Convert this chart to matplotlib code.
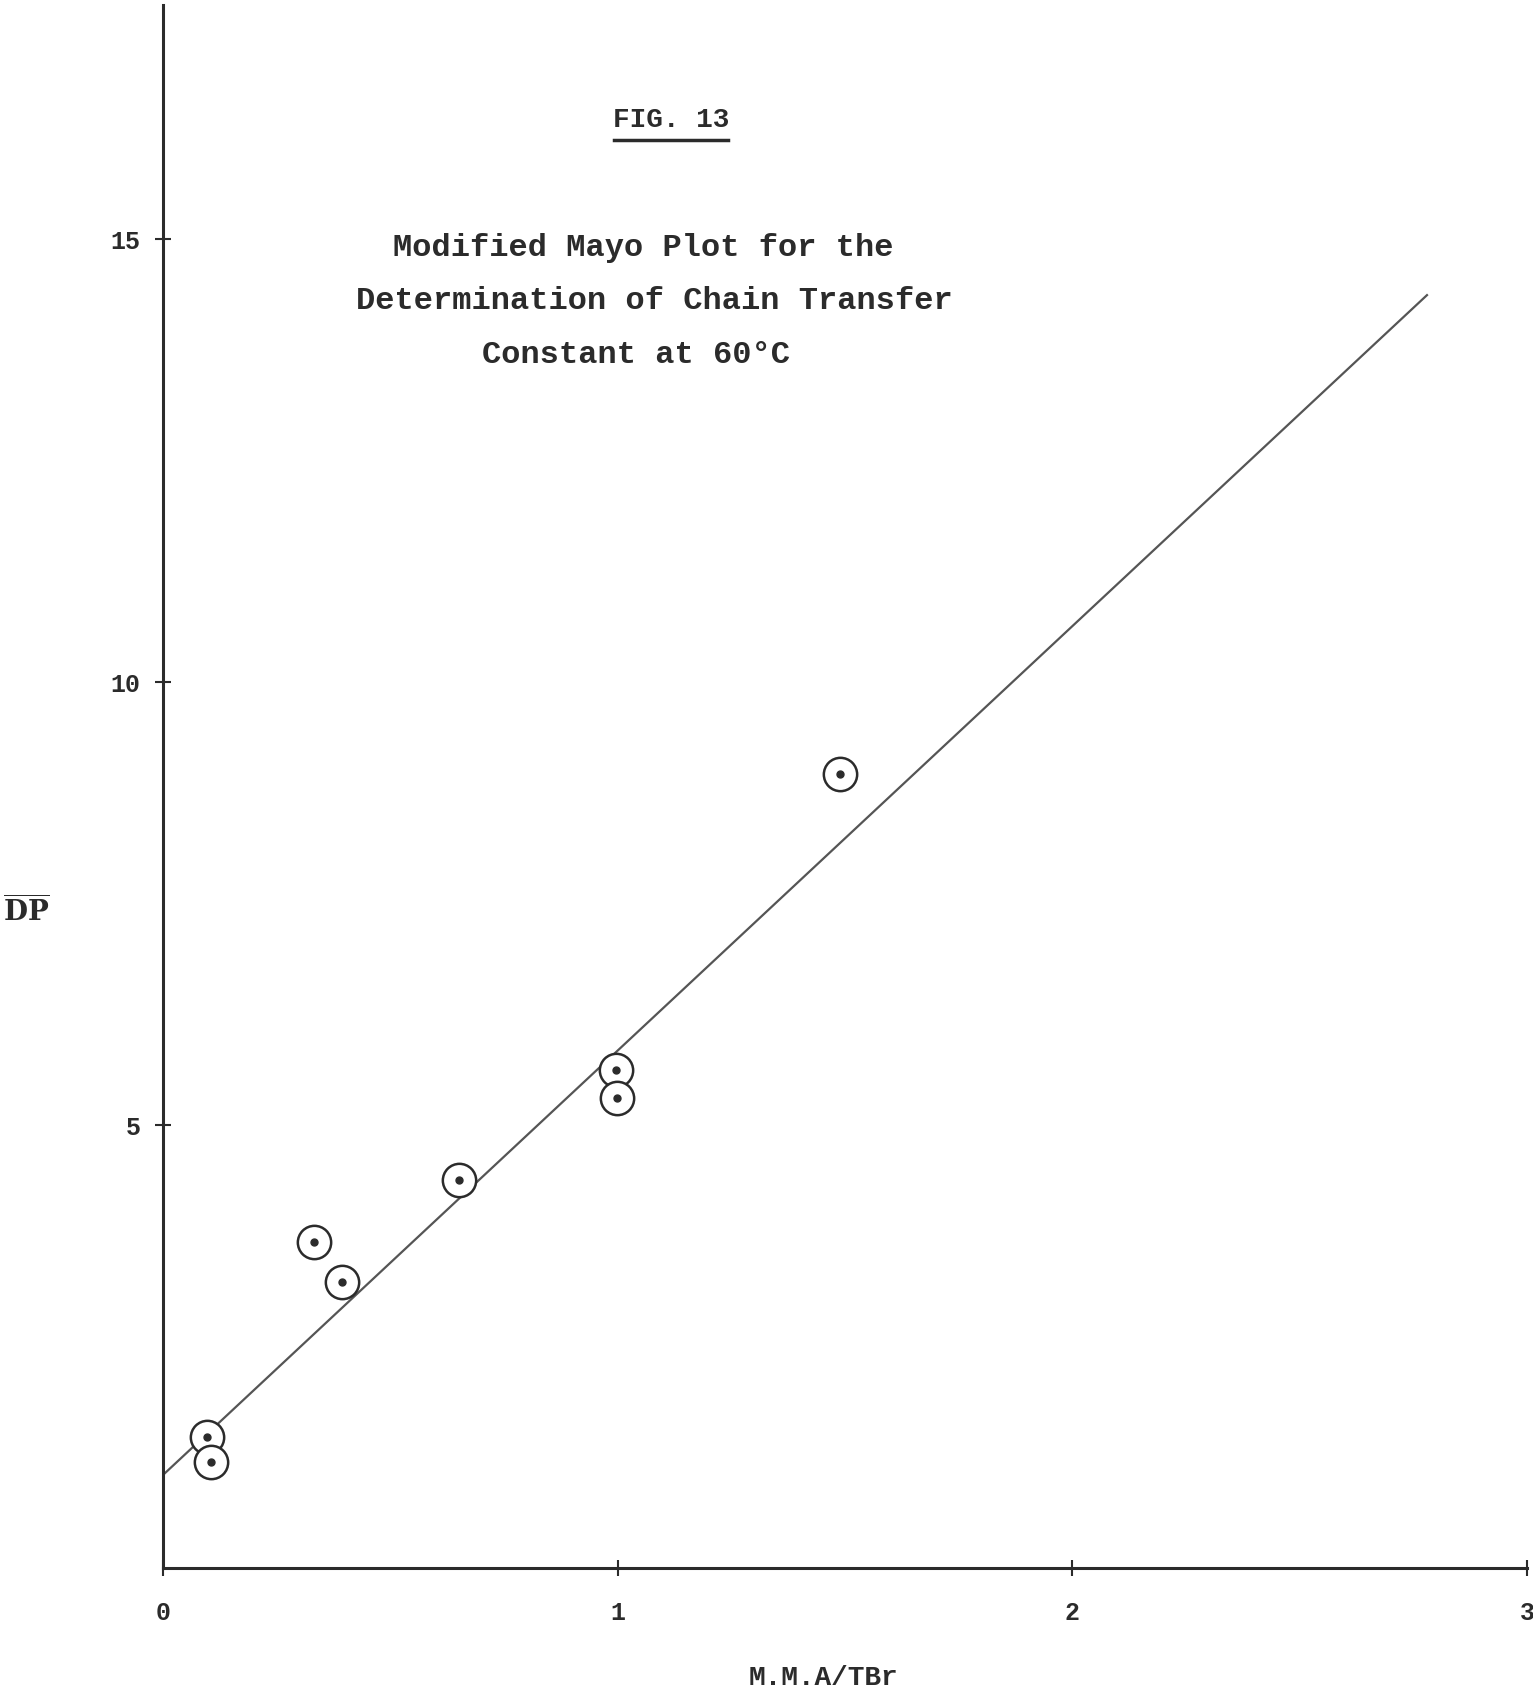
import matplotlib
matplotlib.use("Agg")
import matplotlib.pyplot as plt

# readings from the scanned figure
mma_tbr = [0.097, 0.105, 0.332, 0.394, 0.650, 0.997, 0.999, 1.489]
inv_dp = [1.48, 1.20, 3.68, 3.23, 4.38, 5.62, 5.31, 8.96]

fit_x = [0.0, 2.78]
fit_y = [1.05, 14.37]

x_ticks = [0, 1, 2, 3]
y_ticks = [5, 10, 15]

ink = "#2b2b2b"
font = "Liberation Mono"
plt.rcParams["mathtext.fontset"] = "dejavuserif"

fig = plt.figure(figsize=(15.33, 17.04), dpi=100)
ax = fig.add_axes([0.1063, 0.0798, 0.8898, 0.917])

ax.plot(fit_x, fit_y, color="#555555", lw=1.6, zorder=2)
ax.plot(mma_tbr, inv_dp, ls="none", marker="o", ms=24, mfc="white",
        mec=ink, mew=1.8, zorder=3)
ax.plot(mma_tbr, inv_dp, ls="none", marker="o", ms=5, color=ink, zorder=4)

ax.set_xlim(0, 3.0)
ax.set_ylim(0, 17.64)
ax.set_xticks(x_ticks)
ax.set_yticks(y_ticks)
ax.set_xticklabels([str(v) for v in x_ticks], fontfamily=font,
                   fontweight="bold", fontsize=18, color=ink)
ax.set_yticklabels([str(v) for v in y_ticks], fontfamily=font,
                   fontweight="bold", fontsize=18, color=ink)
ax.tick_params(axis="both", direction="inout", length=12, width=1.5,
               color=ink)
ax.tick_params(axis="x", pad=18)
ax.tick_params(axis="y", pad=10)

for side in ["top", "right"]:
    ax.spines[side].set_visible(False)
for side in ["left", "bottom"]:
    ax.spines[side].set_linewidth(2.2)
    ax.spines[side].set_color(ink)

# axis titles
fig.text(0.537, 0.0153, "M.M.A/TBr", fontfamily=font, fontweight="bold",
         fontsize=20, color=ink, ha="center", va="center")
fig.text(0.017, 0.465, r"$\overline{\mathbf{DP}}$", fontsize=20,
         color=ink, ha="center", va="center")

fig.text(0.438, 0.9296, "FIG. 13", fontfamily=font, fontweight="bold",
         fontsize=20, color=ink, ha="center", va="center")
fig.add_artist(plt.Line2D([0.4005, 0.475], [0.918, 0.918], color=ink, lw=2.5))

subtitle = ["Modified Mayo Plot for the",
            "Determination of Chain Transfer",
            "Constant at 60\u00b0C"]
sub_x = [0.4196, 0.4267, 0.415]
for i, line in enumerate(subtitle):
    fig.text(sub_x[i], 0.8545 - i * 0.0314, line, fontfamily=font,
             fontweight="bold", fontsize=23, color=ink, ha="center",
             va="center")

fig.savefig("out.png", dpi=100, facecolor="white")
